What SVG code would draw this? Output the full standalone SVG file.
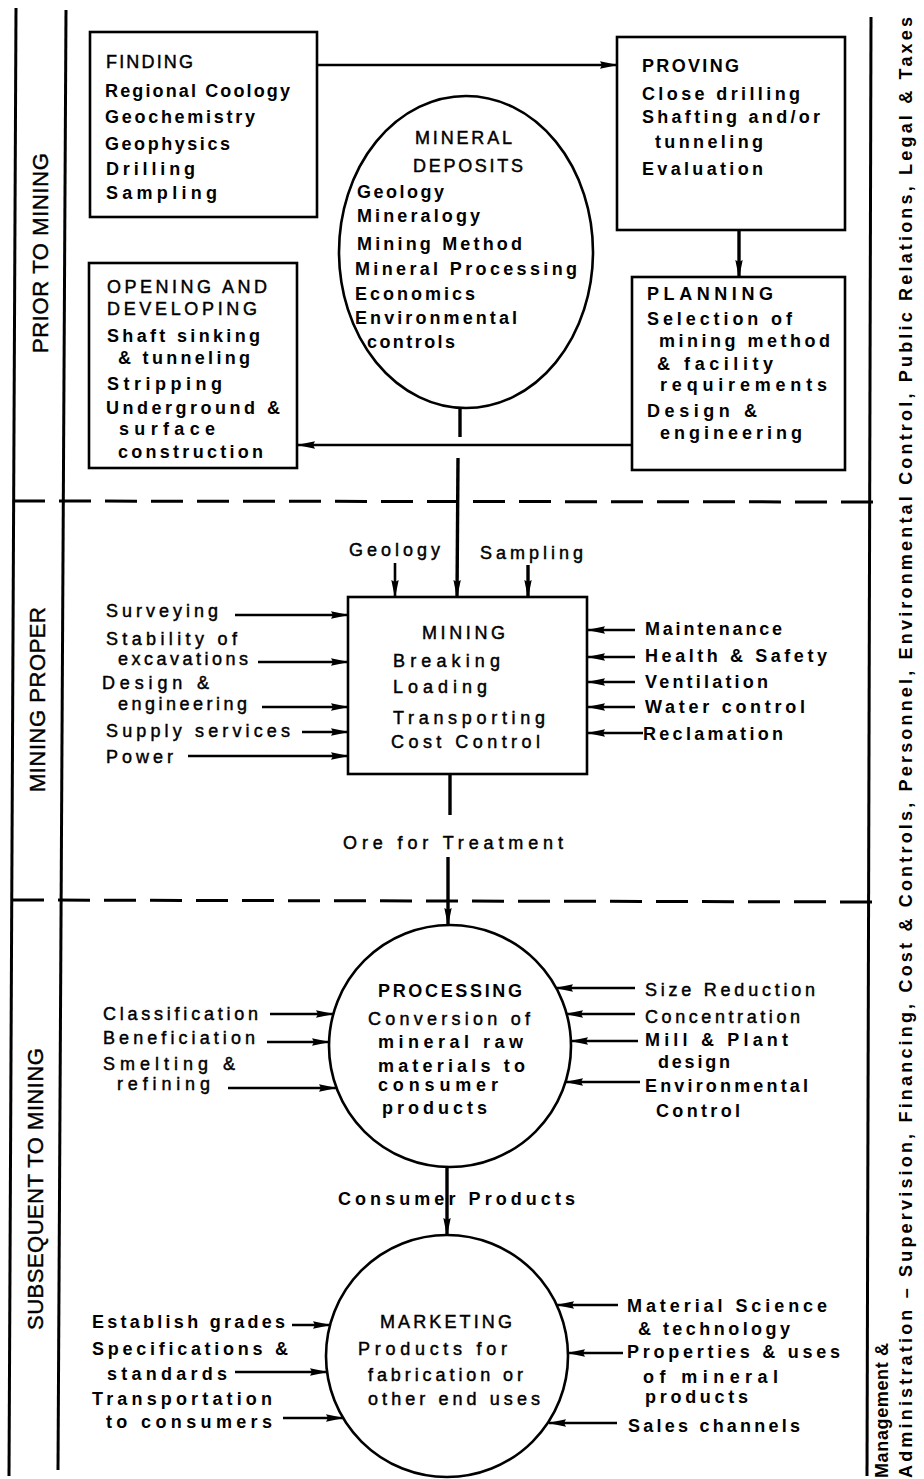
<svg xmlns="http://www.w3.org/2000/svg" width="924" height="1479" viewBox="0 0 924 1479">
  <defs>
    <marker id="ah" viewBox="0 0 18 9" refX="17" refY="4.5" markerWidth="18" markerHeight="9" markerUnits="userSpaceOnUse" orient="auto">
      <path d="M0,0.8 L18,4.5 L0,8.2 L2,4.5 Z" fill="#000"/>
    </marker>
  </defs>
  <style>
    text { font-family: "Liberation Sans", Arial, sans-serif; font-size: 18px; font-weight: bold; fill: #000; }
    text.n { font-weight: normal; stroke: #000; stroke-width: 0.45; }
    text.side { font-size: 22px; font-weight: normal; stroke: #000; stroke-width: 0.4; }
    text.mgmt { font-size: 18px; }
    .box { fill: #fff; stroke: #000; stroke-width: 2.6; }
    .frame { stroke: #000; stroke-width: 3; fill: none; }
    .dash { stroke: #000; stroke-width: 3; stroke-dasharray: 32 14; fill: none; }
    .c { stroke: #000; stroke-width: 2.6; fill: none; }
    .c.main { stroke-width: 3.4; }
    .c.arr { marker-end: url(#ah); }
  </style>
  <rect width="924" height="1479" fill="#fff"/>

  <!-- page frame: stage columns and divisions -->
  <g id="frame">
    <line class="frame" x1="16" y1="8" x2="9" y2="1476"/>
    <line class="frame" x1="66" y1="10" x2="58" y2="1470"/>
    <line class="frame" x1="871" y1="17" x2="867" y2="1476"/>
    <line class="dash" x1="13" y1="501" x2="884" y2="502"/>
    <line class="dash" x1="12" y1="900" x2="885" y2="902"/>
    <text class="side" transform="translate(48,353) rotate(-90)" textLength="200" lengthAdjust="spacing">PRIOR TO MINING</text>
    <text class="side" transform="translate(45,792) rotate(-90)" textLength="185" lengthAdjust="spacing">MINING PROPER</text>
    <text class="side" transform="translate(43,1330) rotate(-90)" textLength="282" lengthAdjust="spacing">SUBSEQUENT TO MINING</text>
    <text class="mgmt" transform="translate(888,1478) rotate(-90)" textLength="135" lengthAdjust="spacing">Management &amp;</text>
    <text class="mgmt" transform="translate(912,1478) rotate(-90)" textLength="1461" lengthAdjust="spacing">Administration – Supervision, Financing, Cost &amp; Controls, Personnel, Environmental Control, Public Relations, Legal &amp; Taxes</text>
  </g>

  <!-- connectors -->
  <g id="connectors">
    <line class="c arr" x1="317" y1="65" x2="617" y2="65"/>
    <line class="c main arr" x1="739" y1="230" x2="739" y2="277"/>
    <line class="c arr" x1="632" y1="445" x2="298" y2="445"/>
    <line class="c main" x1="460" y1="408" x2="460" y2="437"/>
    <line class="c main arr" x1="458" y1="458" x2="457" y2="597"/>
    <line class="c arr" x1="395" y1="563" x2="395" y2="597"/>
    <line class="c main arr" x1="528" y1="565" x2="528" y2="597"/>
    <!-- inputs to mining -->
    <line class="c arr" x1="235" y1="615" x2="348" y2="615"/>
    <line class="c arr" x1="258" y1="662" x2="348" y2="662"/>
    <line class="c arr" x1="262" y1="707" x2="348" y2="707"/>
    <line class="c arr" x1="302" y1="732" x2="348" y2="732"/>
    <line class="c arr" x1="188" y1="756" x2="348" y2="756"/>
    <line class="c arr" x1="635" y1="630" x2="588" y2="630"/>
    <line class="c arr" x1="635" y1="657" x2="588" y2="657"/>
    <line class="c arr" x1="635" y1="682" x2="588" y2="682"/>
    <line class="c arr" x1="635" y1="707" x2="588" y2="707"/>
    <line class="c arr" x1="643" y1="733" x2="588" y2="733"/>
    <!-- ore to processing -->
    <line class="c main" x1="450" y1="774" x2="450" y2="815"/>
    <line class="c main arr" x1="448" y1="857" x2="448" y2="925"/>
    <!-- inputs to processing -->
    <line class="c arr" x1="270" y1="1014" x2="333" y2="1014"/>
    <line class="c arr" x1="267" y1="1042" x2="329" y2="1042"/>
    <line class="c arr" x1="228" y1="1088" x2="336" y2="1088"/>
    <line class="c arr" x1="635" y1="988" x2="556" y2="988"/>
    <line class="c arr" x1="635" y1="1014" x2="566" y2="1014"/>
    <line class="c arr" x1="638" y1="1041" x2="571" y2="1041"/>
    <line class="c arr" x1="640" y1="1082" x2="566" y2="1082"/>
    <!-- products to marketing -->
    <line class="c main arr" x1="447" y1="1168" x2="447" y2="1235"/>
    <!-- inputs to marketing -->
    <line class="c arr" x1="292" y1="1325" x2="330" y2="1325"/>
    <line class="c arr" x1="235" y1="1372" x2="327" y2="1372"/>
    <line class="c arr" x1="283" y1="1418" x2="343" y2="1418"/>
    <line class="c arr" x1="618" y1="1305" x2="557" y2="1305"/>
    <line class="c arr" x1="623" y1="1353" x2="568" y2="1353"/>
    <line class="c arr" x1="617" y1="1423" x2="549" y2="1423"/>
  </g>

  <g id="finding">
    <rect class="box" x="90" y="32" width="227" height="185"/>
    <text class="n" x="106" y="68" textLength="87" lengthAdjust="spacing">FINDING</text>
    <text x="105" y="97" textLength="185" lengthAdjust="spacing">Regional Coology</text>
    <text x="105" y="123" textLength="150" lengthAdjust="spacing">Geochemistry</text>
    <text x="105" y="150" textLength="125" lengthAdjust="spacing">Geophysics</text>
    <text x="106" y="175" textLength="89" lengthAdjust="spacing">Drilling</text>
    <text x="106" y="199" textLength="111" lengthAdjust="spacing">Sampling</text>
  </g>

  <g id="opening">
    <rect class="box" x="89" y="263" width="208" height="205"/>
    <text class="n" x="107" y="293" textLength="160" lengthAdjust="spacing">OPENING AND</text>
    <text class="n" x="107" y="315" textLength="150" lengthAdjust="spacing">DEVELOPING</text>
    <text x="107" y="342" textLength="153" lengthAdjust="spacing">Shaft sinking</text>
    <text x="118" y="364" textLength="132" lengthAdjust="spacing">&amp; tunneling</text>
    <text x="107" y="390" textLength="115" lengthAdjust="spacing">Stripping</text>
    <text x="106" y="414" textLength="174" lengthAdjust="spacing">Underground &amp;</text>
    <text x="119" y="435" textLength="96" lengthAdjust="spacing">surface</text>
    <text x="118" y="458" textLength="145" lengthAdjust="spacing">construction</text>
  </g>

  <g id="mineral-deposits">
    <ellipse class="box" cx="466" cy="252" rx="127" ry="156"/>
    <text class="n" x="415" y="144" textLength="97" lengthAdjust="spacing">MINERAL</text>
    <text class="n" x="413" y="172" textLength="110" lengthAdjust="spacing">DEPOSITS</text>
    <text x="357" y="198" textLength="87" lengthAdjust="spacing">Geology</text>
    <text x="357" y="222" textLength="123" lengthAdjust="spacing">Mineralogy</text>
    <text x="357" y="250" textLength="165" lengthAdjust="spacing">Mining Method</text>
    <text x="355" y="275" textLength="222" lengthAdjust="spacing">Mineral Processing</text>
    <text x="355" y="300" textLength="120" lengthAdjust="spacing">Economics</text>
    <text x="355" y="324" textLength="162" lengthAdjust="spacing">Environmental</text>
    <text x="367" y="348" textLength="88" lengthAdjust="spacing">controls</text>
  </g>

  <g id="proving">
    <rect class="box" x="617" y="37" width="228" height="193"/>
    <text x="642" y="72" textLength="97" lengthAdjust="spacing">PROVING</text>
    <text x="642" y="100" textLength="158" lengthAdjust="spacing">Close drilling</text>
    <text x="642" y="123" textLength="178" lengthAdjust="spacing">Shafting and/or</text>
    <text x="655" y="148" textLength="108" lengthAdjust="spacing">tunneling</text>
    <text x="642" y="175" textLength="121" lengthAdjust="spacing">Evaluation</text>
  </g>

  <g id="planning">
    <rect class="box" x="632" y="277" width="213" height="193"/>
    <text x="647" y="300" textLength="126" lengthAdjust="spacing">PLANNING</text>
    <text x="647" y="325" textLength="145" lengthAdjust="spacing">Selection of</text>
    <text x="659" y="347" textLength="171" lengthAdjust="spacing">mining method</text>
    <text x="657" y="370" textLength="116" lengthAdjust="spacing">&amp; facility</text>
    <text x="660" y="391" textLength="167" lengthAdjust="spacing">requirements</text>
    <text x="647" y="417" textLength="110" lengthAdjust="spacing">Design &amp;</text>
    <text x="660" y="439" textLength="142" lengthAdjust="spacing">engineering</text>
  </g>

  <g id="mining">
    <rect class="box" x="348" y="597" width="239" height="177"/>
    <text class="n" x="422" y="639" textLength="83" lengthAdjust="spacing">MINING</text>
    <text class="n" x="393" y="667" textLength="107" lengthAdjust="spacing">Breaking</text>
    <text class="n" x="393" y="693" textLength="94" lengthAdjust="spacing">Loading</text>
    <text class="n" x="393" y="724" textLength="152" lengthAdjust="spacing">Transporting</text>
    <text class="n" x="391" y="748" textLength="149" lengthAdjust="spacing">Cost Control</text>
  </g>

  <g id="mining-inputs">
    <text class="n" x="349" y="556" textLength="91" lengthAdjust="spacing">Geology</text>
    <text class="n" x="480" y="559" textLength="103" lengthAdjust="spacing">Sampling</text>
    <text class="n" x="106" y="617" textLength="112" lengthAdjust="spacing">Surveying</text>
    <text class="n" x="106" y="645" textLength="131" lengthAdjust="spacing">Stability of</text>
    <text class="n" x="118" y="665" textLength="130" lengthAdjust="spacing">excavations</text>
    <text class="n" x="102" y="689" textLength="107" lengthAdjust="spacing">Design &amp;</text>
    <text class="n" x="118" y="710" textLength="129" lengthAdjust="spacing">engineering</text>
    <text class="n" x="106" y="737" textLength="184" lengthAdjust="spacing">Supply services</text>
    <text class="n" x="106" y="763" textLength="67" lengthAdjust="spacing">Power</text>
    <text x="645" y="635" textLength="137" lengthAdjust="spacing">Maintenance</text>
    <text x="645" y="662" textLength="182" lengthAdjust="spacing">Health &amp; Safety</text>
    <text x="645" y="688" textLength="123" lengthAdjust="spacing">Ventilation</text>
    <text x="645" y="713" textLength="160" lengthAdjust="spacing">Water control</text>
    <text x="643" y="740" textLength="140" lengthAdjust="spacing">Reclamation</text>
    <text class="n" x="343" y="849" textLength="220" lengthAdjust="spacing">Ore for Treatment</text>
  </g>

  <g id="processing">
    <circle class="box" cx="450" cy="1046" r="121"/>
    <text x="378" y="997" textLength="144" lengthAdjust="spacing">PROCESSING</text>
    <text class="n" x="368" y="1025" textLength="162" lengthAdjust="spacing">Conversion of</text>
    <text x="378" y="1048" textLength="145" lengthAdjust="spacing">mineral raw</text>
    <text x="378" y="1072" textLength="147" lengthAdjust="spacing">materials to</text>
    <text x="378" y="1091" textLength="120" lengthAdjust="spacing">consumer</text>
    <text x="382" y="1114" textLength="105" lengthAdjust="spacing">products</text>
  </g>

  <g id="processing-inputs">
    <text class="n" x="103" y="1020" textLength="155" lengthAdjust="spacing">Classification</text>
    <text class="n" x="103" y="1044" textLength="152" lengthAdjust="spacing">Beneficiation</text>
    <text class="n" x="103" y="1070" textLength="132" lengthAdjust="spacing">Smelting &amp;</text>
    <text class="n" x="117" y="1090" textLength="93" lengthAdjust="spacing">refining</text>
    <text class="n" x="645" y="996" textLength="170" lengthAdjust="spacing">Size Reduction</text>
    <text class="n" x="645" y="1023" textLength="155" lengthAdjust="spacing">Concentration</text>
    <text x="645" y="1046" textLength="143" lengthAdjust="spacing">Mill &amp; Plant</text>
    <text x="658" y="1068" textLength="72" lengthAdjust="spacing">design</text>
    <text x="645" y="1092" textLength="163" lengthAdjust="spacing">Environmental</text>
    <text x="656" y="1117" textLength="84" lengthAdjust="spacing">Control</text>
    <text x="338" y="1205" textLength="237" lengthAdjust="spacing">Consumer Products</text>
  </g>

  <g id="marketing">
    <circle class="box" cx="447" cy="1356" r="121"/>
    <text class="n" x="380" y="1328" textLength="132" lengthAdjust="spacing">MARKETING</text>
    <text class="n" x="358" y="1355" textLength="149" lengthAdjust="spacing">Products for</text>
    <text class="n" x="368" y="1381" textLength="155" lengthAdjust="spacing">fabrication or</text>
    <text class="n" x="368" y="1405" textLength="172" lengthAdjust="spacing">other end uses</text>
  </g>

  <g id="marketing-inputs">
    <text x="92" y="1328" textLength="193" lengthAdjust="spacing">Establish grades</text>
    <text x="92" y="1355" textLength="196" lengthAdjust="spacing">Specifications &amp;</text>
    <text x="107" y="1380" textLength="120" lengthAdjust="spacing">standards</text>
    <text x="92" y="1405" textLength="180" lengthAdjust="spacing">Transportation</text>
    <text x="106" y="1428" textLength="166" lengthAdjust="spacing">to consumers</text>
    <text x="627" y="1312" textLength="200" lengthAdjust="spacing">Material Science</text>
    <text x="638" y="1335" textLength="152" lengthAdjust="spacing">&amp; technology</text>
    <text x="627" y="1358" textLength="213" lengthAdjust="spacing">Properties &amp; uses</text>
    <text x="643" y="1383" textLength="135" lengthAdjust="spacing">of mineral</text>
    <text x="645" y="1403" textLength="103" lengthAdjust="spacing">products</text>
    <text x="628" y="1432" textLength="172" lengthAdjust="spacing">Sales channels</text>
  </g>
</svg>
